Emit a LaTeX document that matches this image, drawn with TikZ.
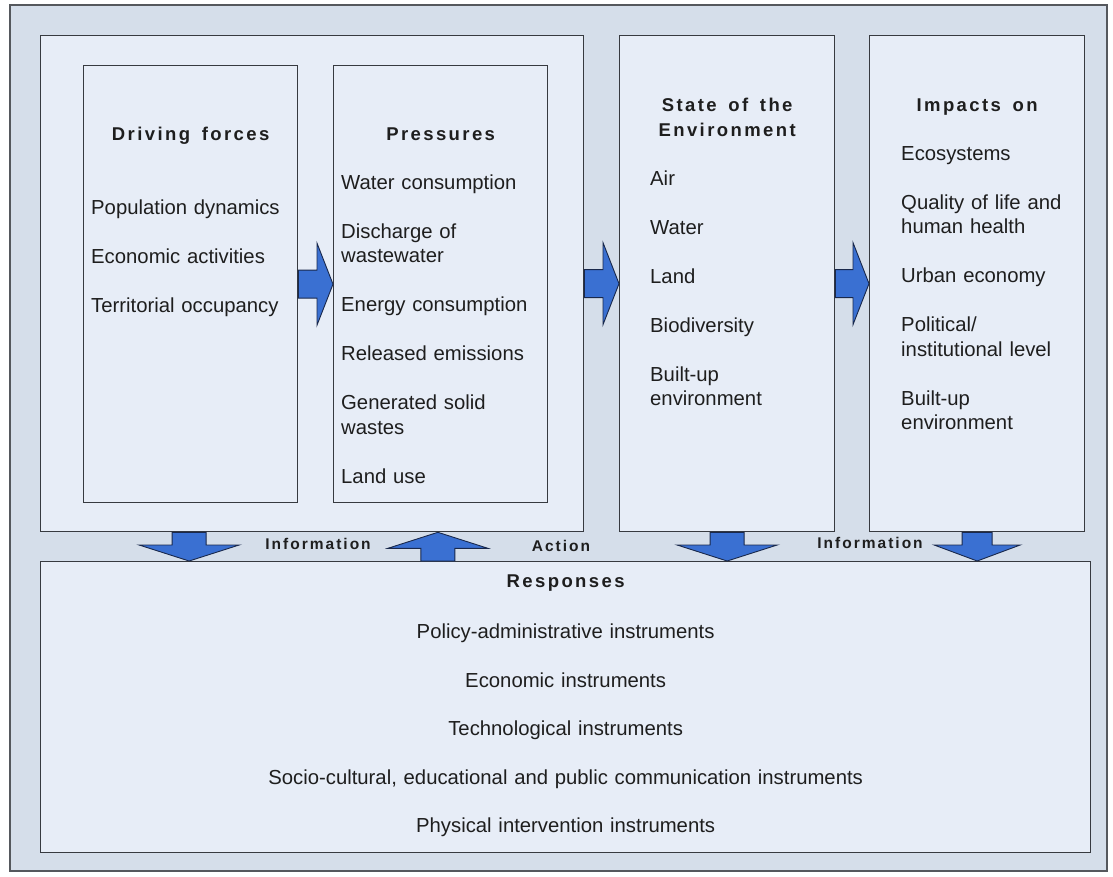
\documentclass[tikz,border=0pt]{standalone}
\usepackage{fontspec}
\setmainfont{Liberation Sans}
\newfontfamily\headfont{Liberation Sans}[LetterSpace=13]
\usetikzlibrary{calc}
\newcommand{\wgap}{\hspace{0.3em}}

\definecolor{bandfill}{RGB}{213,222,234}
\definecolor{panelfill}{RGB}{231,237,247}
\definecolor{panelline}{RGB}{55,58,64}
\definecolor{flowblue}{RGB}{58,112,210}
\definecolor{flowline}{RGB}{25,40,75}
\definecolor{inktext}{RGB}{30,30,30}

% fat block arrow: #1 tail, #2 tip, #3 half shaft, #4 half head, #5 head length
\newcommand{\fatarrow}[5]{%
  \draw[flow] ($(#1)!#3!90:(#2)$)
    -- ($(#2)!#5!(#1)!#3!90:(#2)$)
    -- ($(#2)!#5!(#1)!#4!90:(#2)$)
    -- (#2)
    -- ($(#2)!#5!(#1)!#4!-90:(#2)$)
    -- ($(#2)!#5!(#1)!#3!-90:(#2)$)
    -- ($(#1)!#3!-90:(#2)$) -- cycle;}

\begin{document}
\begin{tikzpicture}[x=1pt,y=-1pt,
  band/.style={fill=bandfill,draw=panelline!85,line width=1.2pt},
  panel/.style={draw=panelline,fill=panelfill,line width=1.3pt,anchor=north west,inner sep=0pt},
  head/.style={font=\headfont\bfseries\fontsize{18.5}{25}\selectfont,text=inktext,anchor=base,
    text width=230pt,align=center,inner sep=0pt},
  items/.style={font=\fontsize{20.3}{24.5}\selectfont,text=inktext,anchor=base west,
    text width=200pt,align=left,inner sep=0pt},
  flowlabel/.style={font=\headfont\bfseries\fontsize{15.5}{18}\selectfont,text=inktext,anchor=base,inner sep=0pt},
  flow/.style={fill=flowblue,draw=flowline,line width=0.9pt,line join=miter}]
\useasboundingbox (0,0) rectangle (1113,876);
\draw[band] (10,5) rectangle (1107,871);

% boxes
\node[panel,minimum width=543pt,minimum height=496pt] (dpbox) at (40,35) {};
\node[panel,minimum width=214pt,minimum height=437pt] (drv) at (83,65) {};
\node[panel,minimum width=214pt,minimum height=437pt] (prs) at (333,65) {};
\node[panel,minimum width=215pt,minimum height=496pt] (ste) at (619,35) {};
\node[panel,minimum width=215pt,minimum height=496pt] (imp) at (869,35) {};
\node[panel,minimum width=1050pt,minimum height=291pt] (rsp) at (40,561) {};

% headings
\node[head] (drvhead) at ($(drv.north)+(0,75)$) {Driving \wgap forces};
\node[head] (prshead) at ($(prs.north)+(0,75)$) {Pressures};
\node[head] (stehead) at ($(ste.north)+(0,76)$) {State \wgap of \wgap the\\Environment};
\node[head] (imphead) at ($(imp.north)+(0,76)$) {Impacts \wgap on};
\node[head] (rsphead) at ($(rsp.north)+(0,26)$) {Responses};

% lists
\node[items] (drvlist) at ($(drv.north west)+(8,149)$)
  {Population dynamics\\[24.5pt]Economic activities\\[24.5pt]Territorial occupancy};
\node[items] (prslist) at ($(prs.north west)+(8,124)$)
  {Water consumption\\[24.5pt]Discharge of\\wastewater\\[24.5pt]Energy consumption\\[24.5pt]%
   Released emissions\\[24.5pt]Generated solid\\wastes\\[24.5pt]Land use};
\node[items] (stelist) at ($(ste.north west)+(31,150)$)
  {Air\\[24.5pt]Water\\[24.5pt]Land\\[24.5pt]Biodiversity\\[24.5pt]Built-up\\environment};
\node[items] (implist) at ($(imp.north west)+(32,125)$)
  {Ecosystems\\[24.5pt]Quality of life and\\human health\\[24.5pt]Urban economy\\[24.5pt]%
   Political/\\institutional level\\[24.5pt]Built-up\\environment};
\node[items,anchor=base,text width=900pt,align=center] (rsplist) at ($(rsp.north)+(0,77.5)$)
  {Policy-administrative instruments\\[24pt]Economic instruments\\[24pt]Technological instruments\\[24pt]%
   Socio-cultural, educational and public communication instruments\\[24pt]Physical intervention instruments};

% arrows along the chain
\fatarrow{drv.east}{prs.west}{14pt}{41pt}{16pt}
\fatarrow{dpbox.east}{ste.west}{14pt}{41pt}{16pt}
\fatarrow{ste.east}{imp.west}{14pt}{41pt}{16pt}

% arrows to and from the responses
\coordinate (d1) at ($(dpbox.south west)!0.274!(dpbox.south east)$);
\coordinate (d1t) at (d1 |- rsp.north);
\coordinate (u1) at ($(dpbox.south west)!0.731!(dpbox.south east)$);
\coordinate (u1t) at (u1 |- rsp.north);
\coordinate (d3t) at (ste.south |- rsp.north);
\coordinate (d4t) at (imp.south |- rsp.north);
\fatarrow{d1}{d1t}{17pt}{50pt}{16pt}
\fatarrow{u1t}{u1}{17pt}{50pt}{16pt}
\fatarrow{ste.south}{d3t}{17pt}{50pt}{16pt}
\fatarrow{imp.south}{d4t}{15pt}{43pt}{16pt}

\node[flowlabel] (info1) at (318,549.5) {Information};
\node[flowlabel] (act) at (561,551) {Action};
\node[flowlabel] (info2) at (870,548.5) {Information};
\end{tikzpicture}
\end{document}
